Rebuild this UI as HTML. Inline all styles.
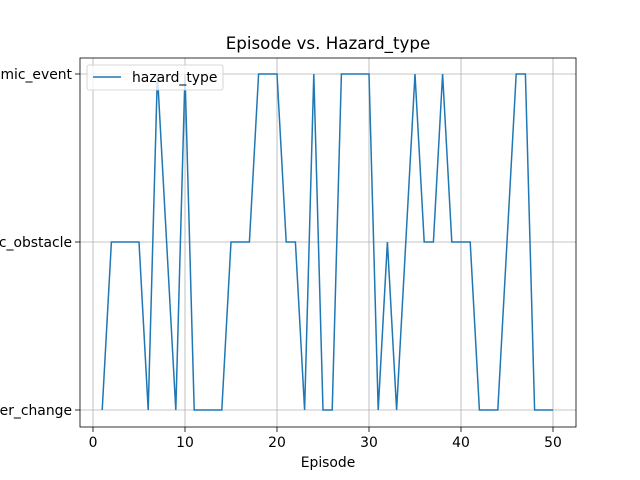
<!DOCTYPE html>
<html><head><meta charset="utf-8"><style>body{margin:0;background:#fff}svg{display:block;font-family:"DejaVu Sans","Liberation Sans",sans-serif}</style></head>
<body>
<svg id="chart" width="640" height="480" xmlns="http://www.w3.org/2000/svg"></svg>
<script>
const categories = ["weather_change","static_obstacle","dynamic_event"];
const episodes = [];
for (let i = 1; i <= 50; i++) episodes.push(i);
const hazard = [0,1,1,1,1,0,2,1,0,2, 0,0,0,0,1,1,1,2,2,2, 1,1,0,2,0,0,2,2,2,2, 0,1,0,1,2,1,1,2,1,1, 1,0,0,0,1,2,2,0,0,0];
const xTicks = [0,10,20,30,40,50];
const L=80,R=576,T=58,B=427;
const xs = v => 93 + (v-0)*(553-93)/50;
const ys = c => 410 - c*168;
const svg = document.getElementById('chart');
const NS='http://www.w3.org/2000/svg';
function mk(tag, attrs, parent){const e=document.createElementNS(NS,tag);for(const k in attrs)e.setAttribute(k,attrs[k]);(parent||svg).appendChild(e);return e;}
xTicks.forEach(t=>{
  const g=mk('line',{x1:xs(t),x2:xs(t),y1:T,y2:B,stroke:'#b0b0b0','stroke-width':0.8});
  
  
  const tk=mk('line',{x1:xs(t),x2:xs(t),y1:B,y2:B+5,stroke:'#000','stroke-width':0.8});
  
  
  const tx=mk('text',{x:xs(t),y:B+20,'font-size':13.9,'text-anchor':'middle',fill:'#000'});
  tx.textContent=t;
  
  
});
categories.forEach((c,i)=>{
  const g=mk('line',{x1:L,x2:R,y1:ys(i),y2:ys(i),stroke:'#b0b0b0','stroke-width':0.8});
  
  
  const tk=mk('line',{x1:L-5,x2:L,y1:ys(i),y2:ys(i),stroke:'#000','stroke-width':0.8});
  
  
  const tx=mk('text',{x:L-8,y:ys(i)+5,'font-size':13.9,'text-anchor':'end',fill:'#000'});
  tx.textContent=c;
  
  
});
const frame=mk('rect',{x:L,y:T,width:R-L,height:B-T,fill:'none',stroke:'#000','stroke-width':0.8});


const pts=episodes.map((e,i)=>xs(e)+','+ys(hazard[i])).join(' ');
const line=mk('polyline',{points:pts,fill:'none',stroke:'#1f77b4','stroke-width':1.5});


const title=mk('text',{x:328,y:49,'font-size':16.7,'text-anchor':'middle'});
title.textContent='Episode vs. Hazard_type';


const xl=mk('text',{x:328,y:467,'font-size':13.9,'text-anchor':'middle'});
xl.textContent='Episode';


const lg=mk('g',{});


mk('rect',{x:87,y:65,width:136,height:25,rx:2,fill:'#fff','fill-opacity':0.8,stroke:'#ccc','stroke-width':0.8},lg);
mk('line',{x1:93,x2:121,y1:77,y2:77,stroke:'#1f77b4','stroke-width':1.5},lg);
const lt=mk('text',{x:132,y:82,'font-size':13.9},lg);
lt.textContent='hazard_type';


</script>
</body></html>
